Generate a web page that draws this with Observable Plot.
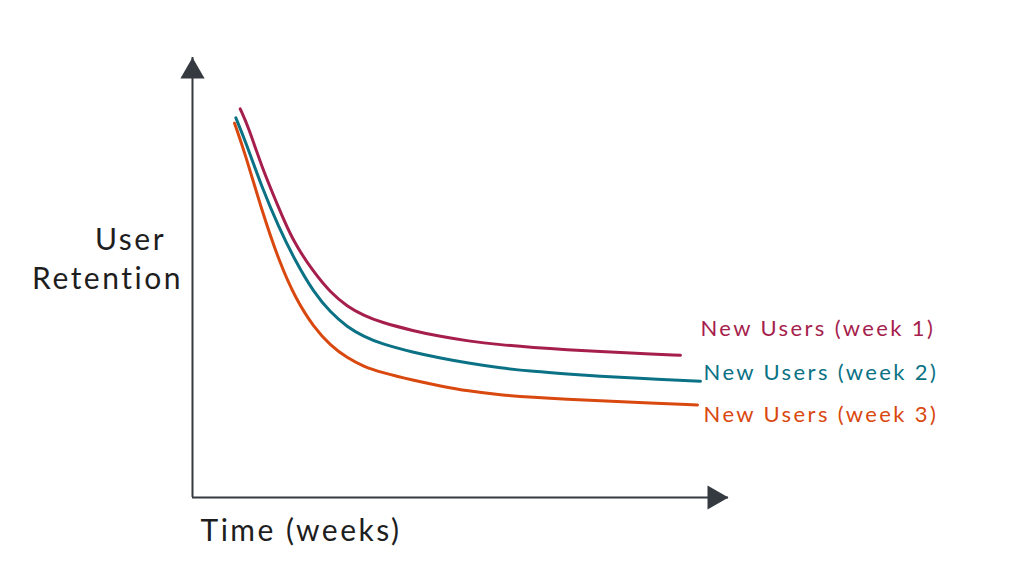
<!DOCTYPE html>
<html><head><meta charset="utf-8">
<script src="https://cdn.jsdelivr.net/npm/d3@7"></script>
<script src="https://cdn.jsdelivr.net/npm/@observablehq/plot@0.6"></script>
<style>
html,body{margin:0;padding:0;background:#fff;}
#chart svg text{font-family:Lato,"Noto Sans",sans-serif;}
#chart svg .lbl text{letter-spacing:2.4px;}
#chart svg .axlbl text{letter-spacing:2.5px;}
</style></head><body><div id="chart"></div><script>
const seriesNames = ["New Users (week 1)", "New Users (week 2)", "New Users (week 3)"];
const seriesColors = ["#a61e4d", "#0b7285", "#d9480f"];
const xAxisLabel = "Time (weeks)";
const yAxisLabel = ["User", "Retention"];

const week1X = [0.890, 1.045, 1.293, 1.604, 1.866, 2.263, 2.575, 2.886, 3.196, 3.507, 4.129, 4.627, 5.131, 5.746, 6.362, 6.996, 7.612, 8.228, 9.104];
const week1Y = [88.34, 84.16, 75.07, 65.98, 58.41, 51.14, 46.59, 43.41, 41.36, 39.84, 37.84, 36.59, 35.57, 34.70, 34.09, 33.59, 33.18, 32.82, 32.32];
const week2X = [0.808, 0.983, 1.293, 1.604, 1.922, 2.263, 2.575, 2.886, 3.196, 3.507, 4.129, 4.627, 5.131, 5.746, 6.362, 6.996, 7.612, 8.228, 9.478];
const week2Y = [86.30, 81.14, 70.52, 61.59, 53.64, 46.59, 42.05, 38.75, 36.59, 35.00, 32.95, 31.70, 30.57, 29.43, 28.64, 28.07, 27.57, 27.14, 26.41];
const week3X = [0.784, 0.983, 1.293, 1.623, 1.922, 2.263, 2.575, 2.886, 3.196, 3.507, 4.129, 4.627, 5.131, 5.746, 6.362, 6.996, 7.612, 8.228, 9.422];
const week3Y = [85.07, 78.11, 65.23, 53.41, 45.23, 38.64, 34.55, 31.70, 29.77, 28.48, 26.59, 25.34, 24.20, 23.30, 22.73, 22.32, 21.98, 21.64, 21.02];

const xMax = 10, yMax = 100;
const xs = [week1X, week2X, week3X], ys = [week1Y, week2Y, week3Y];
const data = seriesNames.flatMap((s, i) => xs[i].map((x, j) => ({series: s, week: x, retention: ys[i][j]})));

const labelOffsets = [[20, -26], [3, -8], [6, 10]];
const axisColor = "#343a40";
const textColor = "#1e1e1e";

const labelMarks = seriesNames.map((s, i) =>
  Plot.text(data.filter(d => d.series === s), Plot.selectLast({
    x: "week", y: "retention", text: "series", fill: seriesColors[i],
    textAnchor: "start", dx: labelOffsets[i][0], dy: labelOffsets[i][1],
    fontSize: 22, className: "lbl"
  }))
);

const chart = Plot.plot({
  width: 1024, height: 588,
  marginLeft: 192, marginRight: 296, marginTop: 57, marginBottom: 91,
  x: {domain: [0, xMax], axis: null},
  y: {domain: [0, yMax], axis: null},
  color: {domain: seriesNames, range: seriesColors},
  marks: [
    Plot.ruleX([0], {y1: 0, y2: yMax, stroke: axisColor, strokeWidth: 2}),
    Plot.ruleY([0], {x1: 0, x2: xMax, stroke: axisColor, strokeWidth: 2}),
    Plot.dot([{x: 0, y: yMax}], {x: "x", y: "y", symbol: "triangle", fill: axisColor, stroke: null, r: 9, dy: 14}),
    Plot.dot([{x: xMax, y: 0}], {x: "x", y: "y", symbol: "triangle", fill: axisColor, stroke: null, r: 9, dx: -14, rotate: 90}),
    Plot.line(data, {x: "week", y: "retention", z: "series", stroke: "series", curve: "basis", strokeWidth: 3, strokeLinecap: "round"}),
    ...labelMarks,
    Plot.text([yAxisLabel[0]], {frameAnchor: "left", dx: -62, dy: -37, textAnchor: "middle", lineAnchor: "middle", fontSize: 30, fill: textColor, className: "axlbl"}),
    Plot.text([yAxisLabel[1]], {frameAnchor: "left", dx: -85, dy: 2, textAnchor: "middle", lineAnchor: "middle", fontSize: 30, fill: textColor, className: "axlbl"}),
    Plot.text([xAxisLabel], {frameAnchor: "bottom-left", dx: 8, dy: 34, textAnchor: "start", lineAnchor: "middle", fontSize: 30, fill: textColor, className: "axlbl"})
  ]
});
document.getElementById("chart").append(chart);
</script></body></html>
